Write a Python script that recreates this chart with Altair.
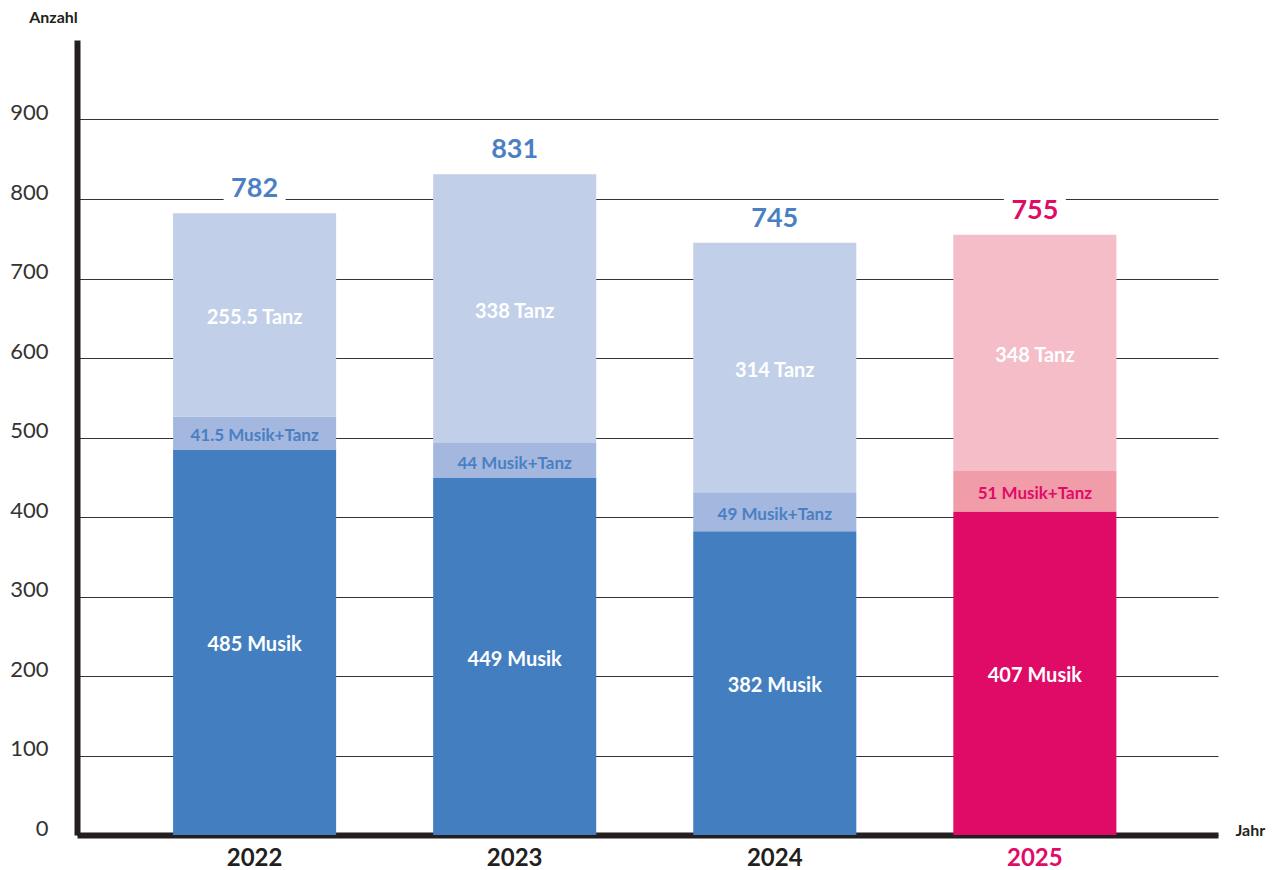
import altair as alt
import pandas as pd

# ---- data ----
years = ["2022", "2023", "2024", "2025"]
musik = [485, 449, 382, 407]
musik_tanz = [41.5, 44, 49, 51]
tanz = [255.5, 338, 314, 297]          # drawn height of the Tanz segment
totals = [782, 831, 745, 755]

musik_labels = ["485 Musik", "449 Musik", "382 Musik", "407 Musik"]
musik_tanz_labels = ["41.5 Musik+Tanz", "44 Musik+Tanz", "49 Musik+Tanz", "51 Musik+Tanz"]
tanz_labels = ["255.5 Tanz", "338 Tanz", "314 Tanz", "348 Tanz"]

palette_keys = ["blau-Musik", "blau-Musik+Tanz", "blau-Tanz",
                "pink-Musik", "pink-Musik+Tanz", "pink-Tanz"]
palette_colors = ["#437fc0", "#a3b7df", "#c1cfe8",
                  "#e00a67", "#f09ca9", "#f4bdc8"]
accent = {"blau": "#4a80c3", "pink": "#e00a67"}

FONT = "Lato"

rows = []
for i, yr in enumerate(years):
    pal = "pink" if yr == "2025" else "blau"
    base = 0.0
    for seg, vals, labs in [("Musik", musik, musik_labels),
                            ("Musik+Tanz", musik_tanz, musik_tanz_labels),
                            ("Tanz", tanz, tanz_labels)]:
        v = vals[i]
        rows.append({
            "Jahr": yr, "Segment": seg, "y0": base, "y1": base + v,
            "mid": base + v / 2, "label": labs[i], "key": f"{pal}-{seg}",
            "tcolor": accent[pal] if seg == "Musik+Tanz" else "#ffffff",
            "tsize": 17 if seg == "Musik+Tanz" else 20,
        })
        base += v
seg_df = pd.DataFrame(rows)

tot_df = pd.DataFrame({
    "Jahr": years,
    "total": totals,
    "tcolor": [accent["pink"] if y == "2025" else accent["blau"] for y in years],
})

x_enc = alt.X(
    "Jahr:N",
    sort=years,
    scale=alt.Scale(paddingInner=0.373, paddingOuter=0.38, align=0.486),
    axis=alt.Axis(
        title="Jahr", titleFont=FONT, titleFontSize=16, titleFontWeight="bold",
        titleColor="#231f20", titleX=1158, titleY=-5, titleAlign="left",
        titleBaseline="middle", titleAnchor="start",
        labelFont=FONT, labelFontSize=24, labelFontWeight="bold", labelAngle=0,
        labelColor=alt.condition("datum.value == '2025'", alt.value("#e00a67"), alt.value("#231f20")),
        labelPadding=11, ticks=False, grid=False,
        domainColor="#231f20", domainWidth=6,
    ),
)

y_scale = alt.Scale(domain=[0, 1000], nice=False)

bars = alt.Chart(seg_df).mark_bar().encode(
    x=x_enc,
    y=alt.Y("y0:Q", scale=y_scale, axis=alt.Axis(
        values=list(range(0, 1000, 100)), grid=True, gridColor="#333333", gridWidth=1,
        ticks=False, domainColor="#231f20", domainWidth=6,
        labelFont=FONT, labelFontSize=22, labelColor="#333333", labelPadding=29,
        labelOffset=-7, labelBaseline="middle",
        title="Anzahl", titleFont=FONT, titleFontSize=16, titleFontWeight="bold",
        titleColor="#231f20", titleAngle=0, titleX=-24, titleY=-23,
        titleAlign="center", titleBaseline="middle",
    )),
    y2="y1:Q",
    color=alt.Color("key:N", scale=alt.Scale(domain=palette_keys, range=palette_colors), legend=None),
)

seg_text = alt.Chart(seg_df).mark_text(
    font=FONT, fontWeight="bold", baseline="middle", align="center", dy=3
).encode(
    x=alt.X("Jahr:N", sort=years),
    y=alt.Y("mid:Q", scale=y_scale),
    text="label:N",
    color=alt.Color("tcolor:N", scale=None),
    size=alt.Size("tsize:Q", scale=None),
)

boxes = alt.Chart(tot_df).mark_bar(
    color="white", size=62, yOffset=-41, y2Offset=-11
).encode(
    x=alt.X("Jahr:N", sort=years),
    y=alt.Y("total:Q", scale=y_scale),
    y2="total:Q",
)

tot_text = alt.Chart(tot_df).mark_text(
    font=FONT, fontWeight="bold", fontSize=27, baseline="middle", align="center", dy=-24
).encode(
    x=alt.X("Jahr:N", sort=years),
    y=alt.Y("total:Q", scale=y_scale),
    text="total:Q",
    color=alt.Color("tcolor:N", scale=None),
)

chart = alt.layer(bars, boxes, seg_text, tot_text).properties(
    width=1141, height=795,
    autosize=alt.AutoSizeParams(type="none"),
    padding={"left": 69, "top": 32, "right": 50, "bottom": 35},
    background="white",
).configure_view(stroke=None)

chart.save("out.html", embed_options={"renderer": "svg", "actions": False})
